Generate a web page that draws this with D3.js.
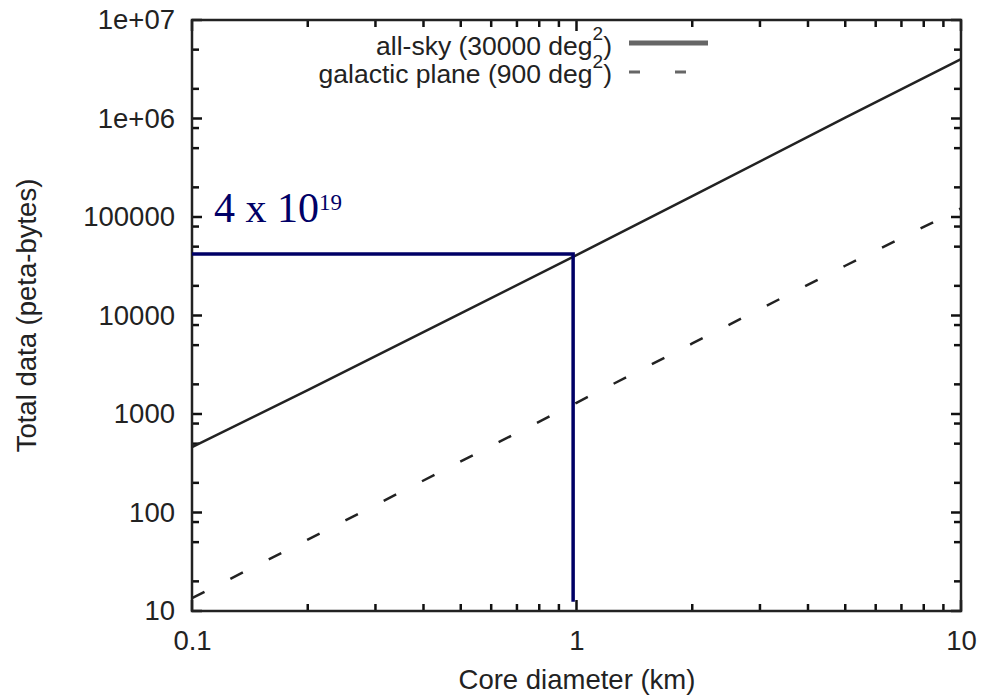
<!DOCTYPE html>
<html lang="en">

<head>
    <meta charset="utf-8">
    <title>Total data vs core diameter</title>

    <style type="text/css">
        body {
            margin: 0;
            background-color: white;
        }
        text {
            font-family: "Liberation Sans", Arial, sans-serif;
            fill: #222;
        }
    </style>

    <script type="text/javascript" src="https://d3js.org/d3.v7.min.js"></script>

</head>

<body>
    <script type="text/javascript">
        // data
        let diameters = [0.1, 0.2, 0.5, 1, 2, 5, 10];
        let allSky = [460, 1750, 10500, 41000, 163000, 1020000, 4000000];
        let galactic = [13.5, 53, 330, 1300, 5200, 32000, 122000];

        let xMajor = [0.1, 1, 10];
        let xMajorLabels = ["0.1", "1", "10"];
        let xMinor = [0.2, 0.3, 0.4, 0.5, 0.6, 0.7, 0.8, 0.9, 2, 3, 4, 5, 6, 7, 8, 9];
        let yMajor = [10, 100, 1000, 10000, 100000, 1000000, 10000000];
        let yMajorLabels = ["10", "100", "1000", "10000", "100000", "1e+06", "1e+07"];
        let yMinor = [20, 50, 80, 200, 500, 800, 2000, 5000, 8000, 20000, 50000, 80000,
                      200000, 500000, 800000, 2000000, 5000000];

        // annotation: 4 x 10^19 at core diameter ~1 km
        let markX = 0.98;
        let markY = 42000;
        let markBottom = 12.4;

        let w = 983;
        let h = 696;
        let pLeft = 192, pRight = 961, pTop = 20, pBottom = 611;
        let fontSize = "27.5px";

        let svg = d3.select("body").append("svg")
                .attr("width", w)
                .attr("height", h)
                .style("background-color", "white");

        let x = d3.scaleLog().domain([0.1, 10]).range([pLeft, pRight]);
        let y = d3.scaleLog().domain([10, 1e7]).range([pBottom, pTop]);

        function styleAxis(g) {
            g.select(".domain").remove();
            g.selectAll("text").style("font-size", fontSize).attr("fill", "#222");
        }

        // tick labels
        svg.append("g")
            .attr("transform", "translate(0," + pBottom + ")")
            .call(d3.axisBottom(x).tickValues(xMajor).tickSize(0).tickPadding(19)
                .tickFormat(function (d, i) { return xMajorLabels[i]; }))
            .call(styleAxis);

        svg.append("g")
            .attr("transform", "translate(" + pLeft + ",0)")
            .call(d3.axisLeft(y).tickValues(yMajor).tickSize(0).tickPadding(17)
                .tickFormat(function (d, i) { return yMajorLabels[i]; }))
            .call(styleAxis);

        // inward ticks on all four sides
        let ticks = svg.append("g")
            .attr("stroke", "#111")
            .attr("stroke-width", 2.5);

        function xTicks(values, len) {
            ticks.selectAll(null).data(values).enter().append("line")
                .attr("x1", function (d) { return x(d); })
                .attr("x2", function (d) { return x(d); })
                .attr("y1", pBottom)
                .attr("y2", pBottom - len);
            ticks.selectAll(null).data(values).enter().append("line")
                .attr("x1", function (d) { return x(d); })
                .attr("x2", function (d) { return x(d); })
                .attr("y1", pTop)
                .attr("y2", pTop + len);
        }
        function yTicks(values, len) {
            ticks.selectAll(null).data(values).enter().append("line")
                .attr("y1", function (d) { return y(d); })
                .attr("y2", function (d) { return y(d); })
                .attr("x1", pLeft)
                .attr("x2", pLeft + len);
            ticks.selectAll(null).data(values).enter().append("line")
                .attr("y1", function (d) { return y(d); })
                .attr("y2", function (d) { return y(d); })
                .attr("x1", pRight)
                .attr("x2", pRight - len);
        }
        xTicks(xMajor, 11);
        xTicks(xMinor, 7);
        yTicks(yMajor, 10);
        yTicks(yMinor, 7);

        // frame
        svg.append("rect")
            .attr("x", pLeft)
            .attr("y", pTop)
            .attr("width", pRight - pLeft)
            .attr("height", pBottom - pTop)
            .attr("fill", "none")
            .attr("stroke", "#222")
            .attr("stroke-width", 2.5);

        // curves
        let curve = d3.line()
            .x(function (d) { return x(d[0]); })
            .y(function (d) { return y(d[1]); });

        svg.append("path")
            .datum(d3.zip(diameters, allSky))
            .attr("d", curve)
            .attr("fill", "none")
            .attr("stroke", "#222")
            .attr("stroke-width", 2.5);

        svg.append("path")
            .datum(d3.zip(diameters, galactic))
            .attr("d", curve)
            .attr("fill", "none")
            .attr("stroke", "#222")
            .attr("stroke-width", 2.5)
            .attr("stroke-dasharray", "14,29");

        // axis titles
        svg.append("text")
            .attr("x", 577)
            .attr("y", 689)
            .attr("text-anchor", "middle")
            .style("font-size", fontSize)
            .text("Core diameter (km)");

        svg.append("text")
            .attr("transform", "translate(36," + ((pTop + pBottom) / 2) + ") rotate(-90)")
            .attr("text-anchor", "middle")
            .style("font-size", fontSize)
            .text("Total data (peta-bytes)");

        // legend
        let legendNames = ["all-sky (30000 deg", "galactic plane (900 deg"];
        let legendRows = [55, 83];
        legendNames.forEach(function (name, i) {
            let t = svg.append("text")
                .attr("x", 612)
                .attr("y", legendRows[i])
                .attr("text-anchor", "end")
                .style("font-size", "26.5px");
            t.append("tspan").text(name);
            t.append("tspan").attr("dy", -15).style("font-size", "19px").text("2");
            t.append("tspan").attr("dy", 15).text(")");

            svg.append("line")
                .attr("x1", 629)
                .attr("x2", 708)
                .attr("y1", [43, 72][i])
                .attr("y2", [43, 72][i])
                .attr("stroke", "#666")
                .attr("stroke-width", i == 0 ? 5 : 3)
                .attr("stroke-dasharray", i == 0 ? null : "11,35");
        });

        // annotation lines
        let navy = "#000066";
        svg.append("path")
            .attr("d", "M" + x(0.1) + "," + y(markY) + "H" + x(markX) + "V" + y(markBottom))
            .attr("fill", "none")
            .attr("stroke", navy)
            .attr("stroke-width", 3.5);

        let note = svg.append("text")
            .attr("x", 214)
            .attr("y", 222)
            .style("font-family", "'Liberation Serif', 'Times New Roman', serif")
            .style("font-size", "42px")
            .style("fill", navy);
        note.append("tspan").text("4 x 10");
        note.append("tspan").attr("dy", -12).style("font-size", "23px").text("19");
    </script>
</body>

</html>
